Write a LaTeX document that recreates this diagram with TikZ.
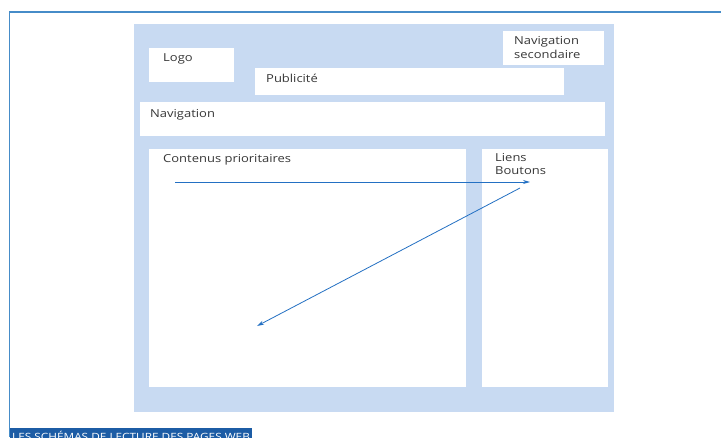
\documentclass[tikz,border=0pt]{standalone}
\usepackage{fontspec}
\setmainfont{Open Sans}
\newfontfamily\zonefont[FakeStretch=1.18]{Open Sans}
\usepackage{tikz}
\usetikzlibrary{arrows.meta,calc}

\definecolor{panelblue}{RGB}{200,218,242}
\definecolor{frameblue}{RGB}{70,140,200}
\definecolor{bannerblue}{RGB}{28,92,165}
\definecolor{arrowblue}{RGB}{35,112,195}
\definecolor{labelgray}{RGB}{55,55,55}

\begin{document}
\begin{tikzpicture}[x=1pt,y=-1pt,
      zone/.style={fill=white,draw=none,inner sep=0pt,anchor=north west},
      lbl/.style={anchor=base west,inner sep=0pt,text=labelgray,
                  font=\zonefont\fontsize{11}{13.5}\selectfont,align=left},
      readpath/.style={draw=arrowblue,line width=0.8pt,-{Stealth[length=7pt,width=4pt]}}
     ]
    \useasboundingbox (0,0) rectangle (721,437);
    % page frame and caption
    \draw[frameblue,line width=1.6pt] (721,11.8) -- (9.5,11.8) -- (9.5,437);
    \fill[bannerblue] (10,428) rectangle (252,445);
    \node[anchor=base west,inner sep=0pt,text=white,
          font=\zonefont\fontsize{10}{12}\selectfont] (caption) at (12,440)
          {LES SCHÉMAS DE LECTURE DES PAGES WEB};
    % the page
    \fill[panelblue] (134,24) rectangle (614,412);
    \node[zone,minimum width=85,minimum height=34] (logo) at (149,48) {};
    \node[zone,minimum width=309,minimum height=27] (pub) at (255,68) {};
    \node[zone,minimum width=101,minimum height=34] (navsec) at (503,31) {};
    \node[zone,minimum width=465,minimum height=34] (nav) at (140,102) {};
    \node[zone,minimum width=317,minimum height=238] (main) at (149,149) {};
    \node[zone,minimum width=126,minimum height=238] (side) at (482,149) {};
    % labels (base = last line)
    \node[lbl] (logo-t) at (163,61) {Logo};
    \node[lbl] (pub-t) at (266,82) {Publicité};
    \node[lbl] (navsec-t) at (514,58) {Navigation\\secondaire};
    \node[lbl] (nav-t) at (150,117) {Navigation};
    \node[lbl] (main-t) at (163,162) {Contenus prioritaires};
    \node[lbl] (side-t) at (495,174.5) {Liens\\Boutons};
    % reading path
    \coordinate (r1) at (175,182);
    \coordinate (r2) at (530,182);
    \coordinate (r3) at (520,188);
    \coordinate (r4) at (257,326);
    \draw[readpath] (r1) -- (r2);
    \draw[readpath] (r3) -- (r4);
\end{tikzpicture}
\end{document}
